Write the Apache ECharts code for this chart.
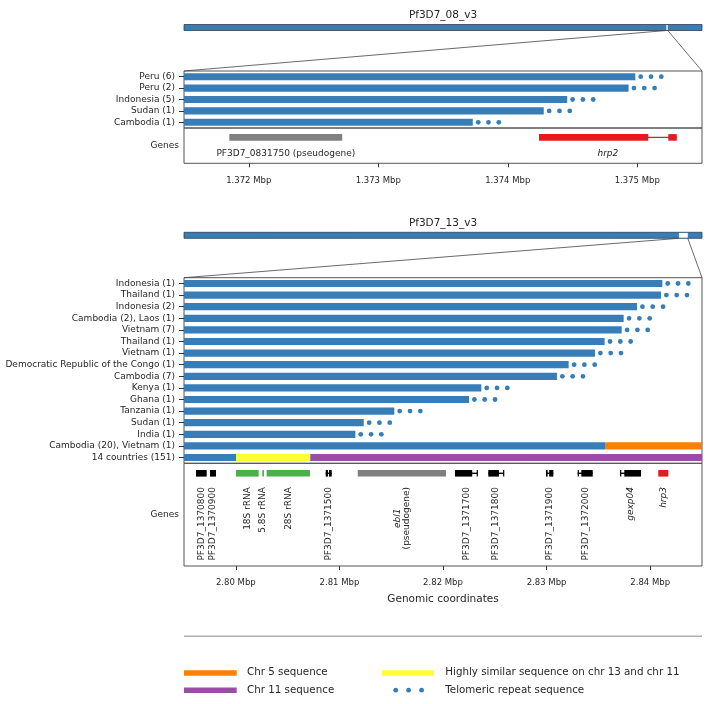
<!DOCTYPE html>
<html><head><meta charset="utf-8">
<script src="https://cdn.jsdelivr.net/npm/echarts@6/dist/echarts.min.js"></script>
<style>html,body{margin:0;padding:0;background:#fff}#c{width:712px;height:704px}</style>
</head><body><div id="c"></div>
<script>
// ---------------- data ----------------
const chr8Name = 'Pf3D7_08_v3';
const chr8Length = 1472805;
const chr8View = [1371500, 1375500];
const chr8Rows = ['Peru (6)', 'Peru (2)', 'Indonesia (5)', 'Sudan (1)', 'Cambodia (1)'];
const chr8Ends = [1374985, 1374933, 1374459, 1374278, 1373730];
const chr8Telomere = [1, 1, 1, 1, 1];
const chr8GeneLabels = ['PF3D7_0831750 (pseudogene)', 'hrp2'];
const chr8GeneKinds = ['pseudogene', 'hrp'];
const chr8GeneExons = [
  [[1371850, 1372722]],
  [[1374241, 1375085], [1375240, 1375305]]
];
const chr8Ticks = [1372000, 1373000, 1374000, 1375000];

const chr13Name = 'Pf3D7_13_v3';
const chr13Length = 2925236;
const chr13View = [2795000, 2845000];
const chr13Rows = ['Indonesia (1)', 'Thailand (1)', 'Indonesia (2)', 'Cambodia (2), Laos (1)', 'Vietnam (7)',
  'Thailand (1)', 'Vietnam (1)', 'Democratic Republic of the Congo (1)', 'Cambodia (7)', 'Kenya (1)',
  'Ghana (1)', 'Tanzania (1)', 'Sudan (1)', 'India (1)', 'Cambodia (20), Vietnam (1)', '14 countries (151)'];
const chr13Ends = [2841170, 2841040, 2838730, 2837440, 2837250, 2835600, 2834670, 2832130, 2831000,
  2823700, 2822510, 2815300, 2812350, 2811540, 2835640, 2800050];
const chr13Telomere = [1, 1, 1, 1, 1, 1, 1, 1, 1, 1, 1, 1, 1, 1, 0, 0];
const chr13Chr5 = [['Cambodia (20), Vietnam (1)', 2835640, 2845000]];
const chr13Similar = [['14 countries (151)', 2800050, 2807190]];
const chr13Chr11 = [['14 countries (151)', 2807190, 2845000]];
const chr13GeneLabels = ['PF3D7_1370800', 'PF3D7_1370900', '18S rRNA', '5.8S rRNA', '28S rRNA', 'PF3D7_1371500',
  'ebl1\n(pseudogene)', 'PF3D7_1371700', 'PF3D7_1371800', 'PF3D7_1371900', 'PF3D7_1372000', 'gexp04', 'hrp3'];
const chr13GeneKinds = ['protein', 'protein', 'rRNA', 'rRNA', 'rRNA', 'protein', 'pseudogene',
  'protein', 'protein', 'protein', 'protein', 'protein', 'hrp'];
const chr13GeneExons = [
  [[2796160, 2797190]],
  [[2797510, 2798090]],
  [[2800020, 2802210]],
  [[2802560, 2802720]],
  [[2802980, 2807160]],
  [[2808680, 2808900], [2809000, 2809260]],
  [[2811770, 2820290]],
  [[2821160, 2822820], [2823250, 2823350]],
  [[2824370, 2825400], [2825800, 2825890]],
  [[2829940, 2830100], [2830250, 2830650]],
  [[2833000, 2833100], [2833350, 2834450]],
  [[2837090, 2837200], [2837500, 2839110]],
  [[2840780, 2841750]]
];
const chr13Ticks = [2800000, 2810000, 2820000, 2830000, 2840000];
const xAxisTitle = 'Genomic coordinates';
const legendLabels = ['Chr 5 sequence', 'Chr 11 sequence', 'Highly similar sequence on chr 13 and chr 11', 'Telomeric repeat sequence'];

// ---------------- style / layout ----------------
const FONT = 'DejaVu Sans';
const TXT = '#262626';
const BLUE = '#377eb8', ORANGE = '#ff7f00', PURPLE = '#984ea3', YELLOW = '#ffff33';
const GENE_COLORS = { protein: '#000000', rRNA: '#4daf4a', pseudogene: '#808080', hrp: '#e41a1c' };
const ITALIC = new Set(['hrp2', 'hrp3', 'gexp04', 'ebl1']);
const L = 184, W = 518;
const G = [
  { top: 24.5, height: 6 },      // 0 chr8 overview
  { top: 71, height: 57 },       // 1 chr8 bars
  { top: 128, height: 35.3 },    // 2 chr8 genes
  { top: 232.3, height: 6 },     // 3 chr13 overview
  { top: 277.7, height: 185.6 }, // 4 chr13 bars
  { top: 463.3, height: 102.7 }  // 5 chr13 genes
];

const chart = echarts.init(document.getElementById('c'), null, { renderer: 'canvas' });

function overviewRender(barsTop) {
  return function (params, api) {
    const cs = params.coordSys;
    const a = api.coord([api.value(0), 0])[0];
    const b = api.coord([api.value(1), 0])[0];
    const zs = api.coord([api.value(2), 0])[0];
    const ze = api.coord([api.value(3), 0])[0];
    const y0 = cs.y, h = cs.height;
    return { type: 'group', children: [
      { type: 'rect', shape: { x: a, y: y0, width: b - a, height: h }, style: { fill: BLUE, stroke: '#2d3f50', lineWidth: 0.8 } },
      { type: 'rect', shape: { x: zs, y: y0 + 0.6, width: Math.max(ze - zs, 1.2), height: h - 1.2 }, style: { fill: '#ffffff' } },
      { type: 'line', shape: { x1: zs, y1: y0 + h, x2: L, y2: barsTop }, style: { stroke: '#444', lineWidth: 0.8 } },
      { type: 'line', shape: { x1: ze, y1: y0 + h, x2: L + W, y2: barsTop }, style: { stroke: '#444', lineWidth: 0.8 } }
    ] };
  };
}

function barRender(params, api) {
  const row = api.value(0);
  const s = api.coord([api.value(1), row]);
  const e = api.coord([api.value(2), row]);
  const h = api.size([0, 1])[1] * 0.62;
  return { type: 'rect', shape: { x: s[0], y: s[1] - h / 2, width: e[0] - s[0], height: h },
    style: { fill: api.visual('color') } };
}

function teloRender(params, api) {
  const p = api.coord([api.value(1), api.value(0)]);
  const ch = [];
  for (let k = 0; k < 3; k++) {
    ch.push({ type: 'circle', shape: { cx: p[0] + 5.4 + k * 10.3, cy: p[1], r: 2.4 }, style: { fill: BLUE } });
  }
  return { type: 'group', children: ch };
}

function geneRender(exonsArr, kinds, labels, trackOffset, vertical) {
  return function (params, api) {
    const i = api.value(0);
    const cs = params.coordSys;
    const yc = cs.y + trackOffset;
    const ex = exonsArr[i];
    const color = GENE_COLORS[kinds[i]];
    const ch = [];
    const x0 = api.coord([ex[0][0], 0])[0];
    const x1 = api.coord([ex[ex.length - 1][1], 0])[0];
    if (ex.length > 1) {
      ch.push({ type: 'rect', shape: { x: x0, y: yc - 0.7, width: x1 - x0, height: 1.4 }, style: { fill: color } });
    }
    ex.forEach(function (seg) {
      const a = api.coord([seg[0], 0])[0], b = api.coord([seg[1], 0])[0];
      ch.push({ type: 'rect', shape: { x: a, y: yc - 3.3, width: Math.max(b - a, 1.2), height: 6.6 }, style: { fill: color } });
    });
    const label = labels[i];
    const cx = (x0 + x1) / 2;
    if (!vertical) {
      ch.push({ type: 'text', x: cx, y: cs.y + 26,
        style: { text: label, fontSize: 9, fontFamily: FONT, fill: TXT, align: 'center', verticalAlign: 'middle',
          fontStyle: ITALIC.has(label) ? 'italic' : 'normal' } });
    } else if (label.indexOf('\n') >= 0) {
      const parts = label.split('\n');
      ch.push({ type: 'text', x: cx, y: cs.y + 23.7, rotation: Math.PI / 2,
        style: { text: '{i|' + parts[0] + '}\n{n|' + parts[1] + '}', fontSize: 9, fontFamily: FONT, fill: TXT,
          align: 'right', verticalAlign: 'middle',
          rich: { i: { fontStyle: 'italic', fontSize: 9, fontFamily: FONT, fill: TXT, align: 'center' },
                  n: { fontSize: 9, fontFamily: FONT, fill: TXT, align: 'center' } } } });
    } else {
      ch.push({ type: 'text', x: cx, y: cs.y + 23.7, rotation: Math.PI / 2,
        style: { text: label, fontSize: 9, fontFamily: FONT, fill: TXT, align: 'right', verticalAlign: 'middle',
          fontStyle: ITALIC.has(label) ? 'italic' : 'normal' } });
    }
    return { type: 'group', children: ch };
  };
}

function hiddenValueAxis(gi, min, max) {
  return { type: 'value', gridIndex: gi, min: min, max: max, show: false, splitLine: { show: false } };
}
function tickAxis(gi, view, ticks, digits, extra) {
  return Object.assign({
    type: 'value', gridIndex: gi, min: view[0], max: view[1],
    axisLine: { show: false },
    splitLine: { show: false },
    axisTick: { show: true, length: 4, lineStyle: { color: '#333', width: 1 }, customValues: ticks },
    axisLabel: { customValues: ticks, margin: 12.5, fontSize: 8.5, fontFamily: FONT, color: TXT,
      formatter: function (v) { return (v / 1e6).toFixed(digits) + ' Mbp'; } }
  }, extra || {});
}
function rowAxis(gi, rows) {
  return { type: 'category', gridIndex: gi, data: rows, inverse: true,
    axisLine: { show: false }, splitLine: { show: false },
    axisTick: { show: true, alignWithLabel: true, length: 5, lineStyle: { color: '#333', width: 1 } },
    axisLabel: { margin: 9, fontSize: 9, fontFamily: FONT, color: TXT, interval: 0 } };
}
function genesAxis(gi) {
  return { type: 'category', gridIndex: gi, data: ['Genes'],
    axisLine: { show: false }, axisTick: { show: false }, splitLine: { show: false },
    axisLabel: { margin: 5, fontSize: 9, fontFamily: FONT, color: TXT } };
}

const gridBox = { show: true, borderColor: '#555', borderWidth: 1, backgroundColor: 'transparent' };

const chr8BarData = chr8Ends.map(function (e, i) { return [i, chr8View[0], e]; });
const chr8TeloData = chr8Ends.map(function (e, i) { return [i, e]; }).filter(function (d, i) { return chr8Telomere[i]; });
const chr13BarData = chr13Ends.map(function (e, i) { return [i, chr13View[0], e]; });
const chr13TeloData = chr13Ends.map(function (e, i) { return [i, e]; }).filter(function (d, i) { return chr13Telomere[i]; });
function segData(list) { return list.map(function (s) { return [chr13Rows.indexOf(s[0]), s[1], s[2]]; }); }

const option = {
  animation: false,
  backgroundColor: '#ffffff',
  grid: [
    { left: L, width: W, top: G[0].top, height: G[0].height, show: false },
    Object.assign({ left: L, width: W, top: G[1].top, height: G[1].height }, gridBox),
    Object.assign({ left: L, width: W, top: G[2].top, height: G[2].height }, gridBox),
    { left: L, width: W, top: G[3].top, height: G[3].height, show: false },
    Object.assign({ left: L, width: W, top: G[4].top, height: G[4].height }, gridBox),
    Object.assign({ left: L, width: W, top: G[5].top, height: G[5].height }, gridBox)
  ],
  xAxis: [
    hiddenValueAxis(0, 0, chr8Length),
    hiddenValueAxis(1, chr8View[0], chr8View[1]),
    tickAxis(2, chr8View, chr8Ticks, 3),
    hiddenValueAxis(3, 0, chr13Length),
    hiddenValueAxis(4, chr13View[0], chr13View[1]),
    tickAxis(5, chr13View, chr13Ticks, 2, {
      name: xAxisTitle, nameLocation: 'middle', nameGap: 27.5,
      nameTextStyle: { fontSize: 10.5, fontFamily: FONT, color: TXT }
    })
  ],
  yAxis: [
    hiddenValueAxis(0, 0, 1),
    rowAxis(1, chr8Rows),
    genesAxis(2),
    hiddenValueAxis(3, 0, 1),
    rowAxis(4, chr13Rows),
    genesAxis(5)
  ],
  series: [
    { type: 'custom', xAxisIndex: 0, yAxisIndex: 0, renderItem: overviewRender(G[1].top),
      data: [[0, chr8Length, chr8View[0], chr8View[1]]], silent: true },
    { type: 'custom', xAxisIndex: 1, yAxisIndex: 1, renderItem: barRender, itemStyle: { color: BLUE },
      data: chr8BarData, clip: true },
    { type: 'custom', xAxisIndex: 1, yAxisIndex: 1, renderItem: teloRender, data: chr8TeloData },
    { type: 'custom', xAxisIndex: 2, yAxisIndex: 2,
      renderItem: geneRender(chr8GeneExons, chr8GeneKinds, chr8GeneLabels, 9.4, false),
      data: chr8GeneExons.map(function (ex, i) { return [i, ex[0][0], ex[ex.length - 1][1]]; }) },
    { type: 'custom', xAxisIndex: 3, yAxisIndex: 3, renderItem: overviewRender(G[4].top),
      data: [[0, chr13Length, chr13View[0], chr13View[1]]], silent: true },
    { type: 'custom', xAxisIndex: 4, yAxisIndex: 4, renderItem: barRender, itemStyle: { color: BLUE },
      data: chr13BarData, clip: true },
    { type: 'custom', xAxisIndex: 4, yAxisIndex: 4, renderItem: barRender, itemStyle: { color: ORANGE },
      data: segData(chr13Chr5), clip: true },
    { type: 'custom', xAxisIndex: 4, yAxisIndex: 4, renderItem: barRender, itemStyle: { color: YELLOW },
      data: segData(chr13Similar), clip: true },
    { type: 'custom', xAxisIndex: 4, yAxisIndex: 4, renderItem: barRender, itemStyle: { color: PURPLE },
      data: segData(chr13Chr11), clip: true },
    { type: 'custom', xAxisIndex: 4, yAxisIndex: 4, renderItem: teloRender, data: chr13TeloData },
    { type: 'custom', xAxisIndex: 5, yAxisIndex: 5,
      renderItem: geneRender(chr13GeneExons, chr13GeneKinds, chr13GeneLabels, 10, true),
      data: chr13GeneExons.map(function (ex, i) { return [i, ex[0][0], ex[ex.length - 1][1]]; }) }
  ],
  graphic: [
    { type: 'text', x: 443, y: 15.3, style: { text: chr8Name, fontSize: 10.5, fontFamily: FONT, fill: TXT, align: 'center', verticalAlign: 'middle' } },
    { type: 'text', x: 443, y: 223.5, style: { text: chr13Name, fontSize: 10.5, fontFamily: FONT, fill: TXT, align: 'center', verticalAlign: 'middle' } },
    { type: 'line', shape: { x1: L, y1: 636.3, x2: L + W, y2: 636.3 }, style: { stroke: '#b0b0b0', lineWidth: 1.4 } },
    { type: 'rect', shape: { x: 184, y: 670.3, width: 52.7, height: 5.4 }, style: { fill: ORANGE } },
    { type: 'text', x: 247, y: 672.8, style: { text: legendLabels[0], fontSize: 10.3, fontFamily: FONT, fill: TXT, verticalAlign: 'middle' } },
    { type: 'rect', shape: { x: 184, y: 687.6, width: 52.7, height: 5.4 }, style: { fill: PURPLE } },
    { type: 'text', x: 247, y: 690.3, style: { text: legendLabels[1], fontSize: 10.3, fontFamily: FONT, fill: TXT, verticalAlign: 'middle' } },
    { type: 'rect', shape: { x: 381.8, y: 670.3, width: 52.2, height: 5.4 }, style: { fill: YELLOW } },
    { type: 'text', x: 445.3, y: 672.8, style: { text: legendLabels[2], fontSize: 10.3, fontFamily: FONT, fill: TXT, verticalAlign: 'middle' } },
    { type: 'circle', shape: { cx: 395.7, cy: 690.2, r: 2.4 }, style: { fill: BLUE } },
    { type: 'circle', shape: { cx: 408.6, cy: 690.2, r: 2.4 }, style: { fill: BLUE } },
    { type: 'circle', shape: { cx: 421.6, cy: 690.2, r: 2.4 }, style: { fill: BLUE } },
    { type: 'text', x: 445.3, y: 690.3, style: { text: legendLabels[3], fontSize: 10.3, fontFamily: FONT, fill: TXT, verticalAlign: 'middle' } }
  ]
};
chart.setOption(option);
</script>
</body></html>
